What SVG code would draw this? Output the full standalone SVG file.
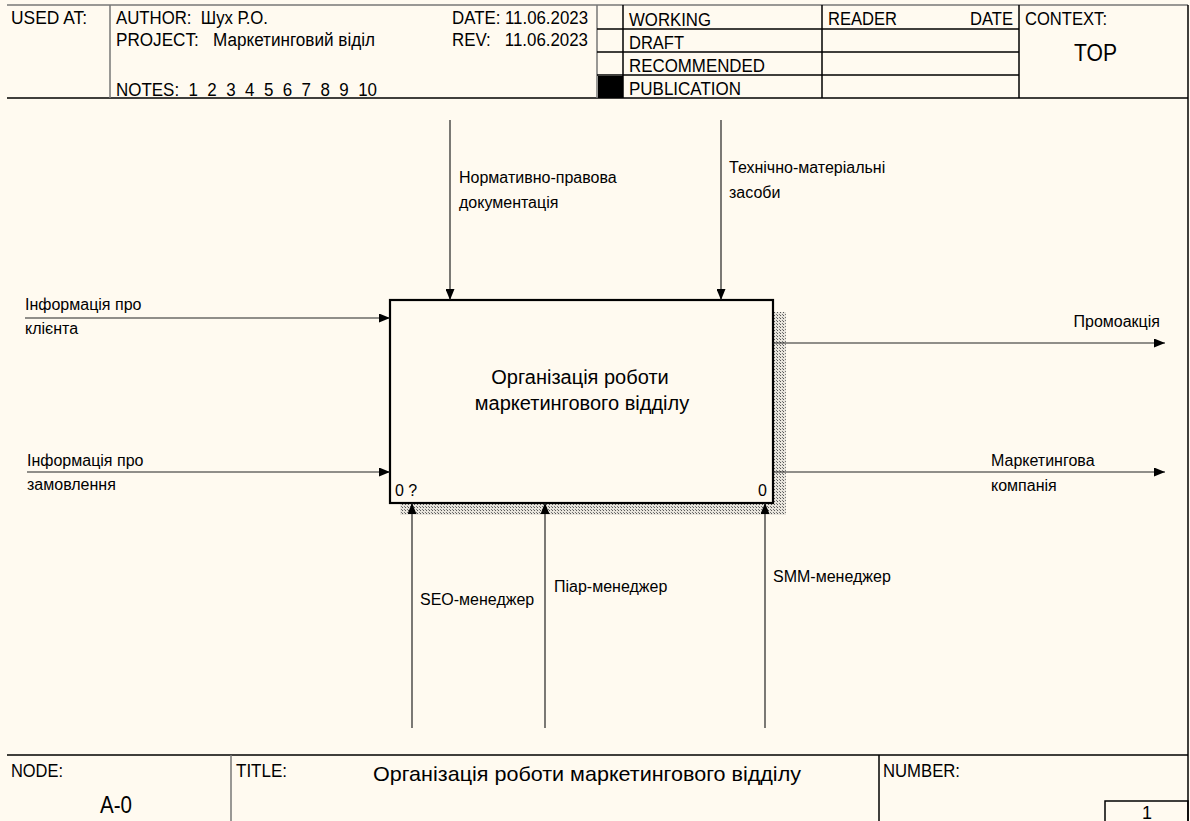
<svg xmlns="http://www.w3.org/2000/svg" width="1190" height="821" viewBox="0 0 1190 821">
<style>
.hd{font-family:"Liberation Sans",Arial,sans-serif;font-size:18px;fill:#000}
.lb{font-family:"Liberation Sans",Arial,sans-serif;font-size:16px;fill:#000}
.bx{font-family:"Liberation Sans",Arial,sans-serif;font-size:20px;fill:#000}
.big{font-size:24px}
.ttl{font-size:21px}
.fr{stroke:#000;stroke-width:1.5;fill:none}
.fg{stroke:#777;stroke-width:1.5;fill:none}
.cn{stroke:#222;stroke-width:1.2;fill:none}
</style>
<defs>
<marker id="ah" viewBox="0 0 11 9" refX="11" refY="4.5" markerWidth="11" markerHeight="9" markerUnits="userSpaceOnUse" orient="auto">
<path d="M0,0 L11,4.5 L0,9 Z" fill="#000"/>
</marker>
<pattern id="hatch" width="3" height="3" patternUnits="userSpaceOnUse">
<rect width="3" height="3" fill="#e8e4dc"/>
<rect width="1" height="1" fill="#555"/>
<rect x="2" y="2" width="1" height="1" fill="#777"/>
</pattern>
</defs>
<rect width="1190" height="821" fill="#fffaf0"/>

<g id="header">
<line class="fg" x1="7" y1="5" x2="1188" y2="5"/>
<line class="fr" x1="7" y1="98" x2="1188" y2="98"/>
<line class="fg" x1="110" y1="5" x2="110" y2="98"/>
<line class="fg" x1="597" y1="5" x2="597" y2="98"/>
<line class="fr" x1="623" y1="5" x2="623" y2="98"/>
<line class="fr" x1="822" y1="5" x2="822" y2="98"/>
<line class="fr" x1="1019" y1="5" x2="1019" y2="98"/>
<line class="fr" x1="1188" y1="5" x2="1188" y2="821"/>
<line class="fr" x1="597" y1="29" x2="1019" y2="29"/>
<line class="fr" x1="597" y1="52" x2="1019" y2="52"/>
<line class="fr" x1="597" y1="75" x2="1019" y2="75"/>
<rect x="598" y="76" width="25" height="22" fill="#000"/>
<text class="hd" x="11" y="24" textLength="76" lengthAdjust="spacingAndGlyphs">USED AT:</text>
<text class="hd" x="116" y="24" textLength="152" lengthAdjust="spacingAndGlyphs" xml:space="preserve">AUTHOR:  Шух Р.О.</text>
<text class="hd" x="116" y="46" textLength="259" lengthAdjust="spacingAndGlyphs" xml:space="preserve">PROJECT:   Маркетинговий віділ</text>
<text class="hd" x="116" y="96" textLength="261" lengthAdjust="spacingAndGlyphs" xml:space="preserve">NOTES:  1  2  3  4  5  6  7  8  9  10</text>
<text class="hd" x="452" y="24" textLength="136" lengthAdjust="spacingAndGlyphs">DATE: 11.06.2023</text>
<text class="hd" x="452" y="46" textLength="136" lengthAdjust="spacingAndGlyphs" xml:space="preserve">REV:   11.06.2023</text>
<text class="hd" x="629" y="26" textLength="82" lengthAdjust="spacingAndGlyphs">WORKING</text>
<text class="hd" x="629" y="49" textLength="55" lengthAdjust="spacingAndGlyphs">DRAFT</text>
<text class="hd" x="629" y="72" textLength="136" lengthAdjust="spacingAndGlyphs">RECOMMENDED</text>
<text class="hd" x="629" y="95" textLength="112" lengthAdjust="spacingAndGlyphs">PUBLICATION</text>
<text class="hd" x="828" y="25" textLength="69" lengthAdjust="spacingAndGlyphs">READER</text>
<text class="hd" x="970" y="25" textLength="43" lengthAdjust="spacingAndGlyphs">DATE</text>
<text class="hd" x="1025" y="25" textLength="82" lengthAdjust="spacingAndGlyphs">CONTEXT:</text>
<text class="hd big" x="1074" y="61" textLength="43" lengthAdjust="spacingAndGlyphs">TOP</text>
</g>

<g id="node-A0">
<rect x="773" y="312" width="13" height="203" fill="url(#hatch)"/>
<rect x="400" y="503" width="386" height="12" fill="url(#hatch)"/>
<rect x="390" y="300" width="383" height="203" fill="#fffaf0" stroke="#000" stroke-width="2.2"/>
<text class="bx" x="580" y="384" text-anchor="middle">Організація роботи</text>
<text class="bx" x="582" y="410" text-anchor="middle">маркетингового відділу</text>
<text class="lb" x="395" y="496">0 ?</text>
<text class="lb" x="758" y="496">0</text>
</g>

<g id="connectors">
<line class="cn" x1="25" y1="318" x2="390" y2="318" marker-end="url(#ah)"/>
<text class="lb" x="25" y="310">Інформація про</text>
<text class="lb" x="25" y="334">клієнта</text>
<line class="cn" x1="27" y1="472" x2="390" y2="472" marker-end="url(#ah)"/>
<text class="lb" x="27" y="466">Інформація про</text>
<text class="lb" x="27" y="490">замовлення</text>

<line class="cn" x1="450" y1="120" x2="450" y2="300" marker-end="url(#ah)"/>
<text class="lb" x="459" y="183">Нормативно-правова</text>
<text class="lb" x="459" y="208">документація</text>
<line class="cn" x1="721" y1="120" x2="721" y2="300" marker-end="url(#ah)"/>
<text class="lb" x="729" y="173">Технічно-матеріальні</text>
<text class="lb" x="729" y="198">засоби</text>

<line class="cn" x1="773" y1="343" x2="1165" y2="343" marker-end="url(#ah)"/>
<text class="lb" x="1160" y="327" text-anchor="end">Промоакція</text>
<line class="cn" x1="773" y1="472" x2="1165" y2="472" marker-end="url(#ah)"/>
<text class="lb" x="991" y="466">Маркетингова</text>
<text class="lb" x="991" y="491">компанія</text>

<line class="cn" x1="412" y1="728" x2="412" y2="503" marker-end="url(#ah)"/>
<text class="lb" x="420" y="605">SEO-менеджер</text>
<line class="cn" x1="545" y1="728" x2="545" y2="503" marker-end="url(#ah)"/>
<text class="lb" x="554" y="592">Піар-менеджер</text>
<line class="cn" x1="765" y1="728" x2="765" y2="503" marker-end="url(#ah)"/>
<text class="lb" x="773" y="582">SMM-менеджер</text>
</g>

<g id="footer">
<line class="fr" x1="7" y1="755" x2="1188" y2="755"/>
<line class="fg" x1="231" y1="755" x2="231" y2="821"/>
<line class="fr" x1="879" y1="755" x2="879" y2="821"/>
<rect x="1105" y="801" width="83" height="21" fill="none" stroke="#000" stroke-width="1.5"/>
<text class="hd" x="11" y="777" textLength="52" lengthAdjust="spacingAndGlyphs">NODE:</text>
<text class="hd big" x="100" y="813" textLength="32" lengthAdjust="spacingAndGlyphs">A-0</text>
<text class="hd" x="236" y="777" textLength="51" lengthAdjust="spacingAndGlyphs">TITLE:</text>
<text class="hd ttl" x="373" y="781" textLength="428" lengthAdjust="spacingAndGlyphs">Організація роботи маркетингового відділу</text>
<text class="hd" x="883" y="777" textLength="77" lengthAdjust="spacingAndGlyphs">NUMBER:</text>
<text class="hd" x="1147" y="819" text-anchor="middle">1</text>
</g>
</svg>
